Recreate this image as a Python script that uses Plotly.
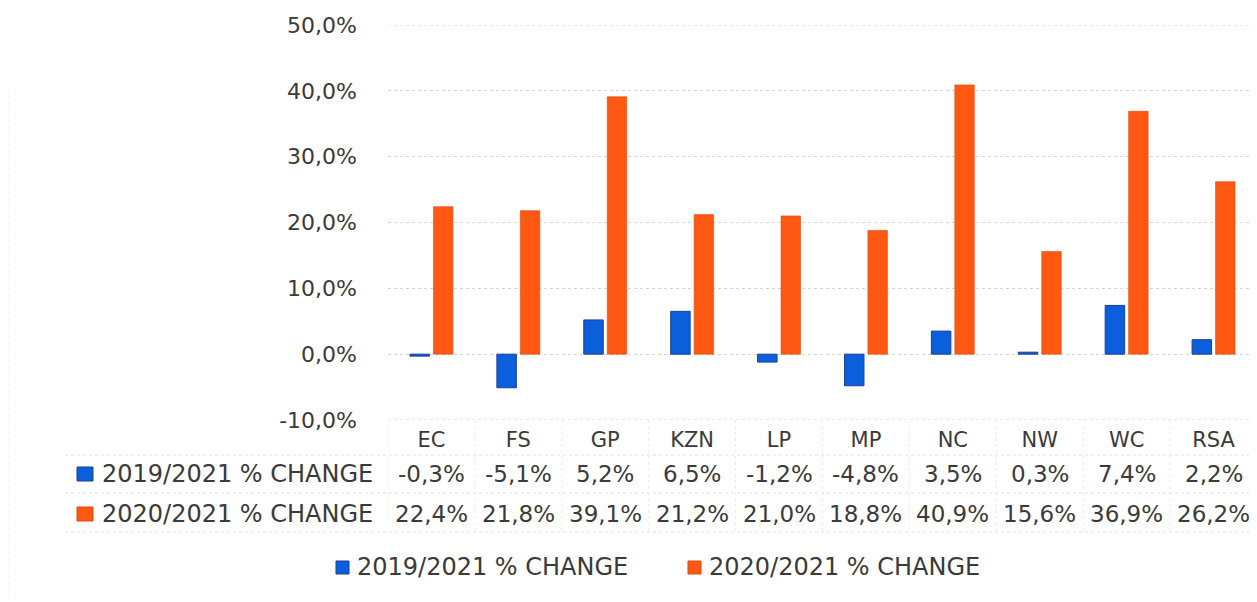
import plotly.graph_objects as go

categories = ["EC", "FS", "GP", "KZN", "LP", "MP", "NC", "NW", "WC", "RSA"]
change_2019_2021 = [-0.3, -5.1, 5.2, 6.5, -1.2, -4.8, 3.5, 0.3, 7.4, 2.2]
change_2020_2021 = [22.4, 21.8, 39.1, 21.2, 21.0, 18.8, 40.9, 15.6, 36.9, 26.2]
series_names = ["2019/2021 % CHANGE", "2020/2021 % CHANGE"]
y_ticks = [-10, 0, 10, 20, 30, 40, 50]

BLUE = "#0b5fdc"
BLUE_EDGE = "#1d3f96"
ORANGE = "#ff5812"
ORANGE_EDGE = "#d84a10"
TEXT = "#3a3a3a"
FONT = "DejaVu Sans"
GRID = "#d4d4d4"

OFF = 8  # page body margin
W, H = 1257 - OFF, 602 - OFF
# plot area in page pixels: x 388..1257, y 25..420
L, T = 388 - OFF, 25 - OFF
R = 0
B = H - (420 - OFF)
plot_h = H - T - B
plot_w = W - L - R


def py(ypix):
    return ((420 - OFF) - (ypix - OFF)) / plot_h


def px(xpix):
    return ((xpix - OFF) - L) / plot_w


def fmt(v):
    return f"{v:.1f}".replace(".", ",") + "%"


fig = go.Figure()
fig.add_trace(go.Bar(x=categories, y=change_2019_2021, name=series_names[0],
                     marker=dict(color=BLUE, line=dict(color=BLUE_EDGE, width=1))))
fig.add_trace(go.Bar(x=categories, y=change_2020_2021, name=series_names[1],
                     marker=dict(color=ORANGE, line=dict(color=ORANGE_EDGE, width=0.6))))

shapes = []
annotations = []

# gridlines at the range edges (plotly omits them at the very edge)
for t in (y_ticks[0], y_ticks[-1]):
    shapes.append(dict(type="line", xref="paper", yref="y", x0=0, x1=1, y0=t, y1=t,
                       layer="below", line=dict(color=GRID, width=1, dash="dot")))

# data table grid (faint dotted)
for ypix in [455, 493, 532]:
    shapes.append(dict(type="line", xref="paper", yref="paper",
                       x0=px(65), x1=1, y0=py(ypix), y1=py(ypix),
                       line=dict(color="#e0e0e0", width=1, dash="dot")))
for k in range(len(categories)):
    shapes.append(dict(type="line", xref="x", yref="paper",
                       x0=k - 0.5, x1=k - 0.5, y0=py(420), y1=py(532),
                       line=dict(color="#ececec", width=1, dash="dot")))
# faint chart border on left
shapes.append(dict(type="line", xref="paper", yref="paper",
                   x0=px(8), x1=px(8), y0=py(90), y1=py(600),
                   line=dict(color="#ececec", width=1, dash="dot")))

rows = [(change_2019_2021, BLUE, BLUE_EDGE, 474), (change_2020_2021, ORANGE, ORANGE_EDGE, 514)]
for (vals, col, edge, ypix), name in zip(rows, series_names):
    shapes.append(dict(type="rect", xref="paper", yref="paper",
                       x0=px(77), x1=px(93), y0=py(ypix - 7), y1=py(ypix + 7),
                       fillcolor=col, line=dict(color=edge, width=1)))
    annotations.append(dict(xref="paper", yref="paper", x=px(100), y=py(ypix),
                            text=name, showarrow=False, xanchor="left", yanchor="middle",
                            font=dict(family=FONT, size=24, color=TEXT)))
    for c, v in zip(categories, vals):
        annotations.append(dict(xref="x", yref="paper", x=c, y=py(ypix),
                                text=fmt(v), showarrow=False, xanchor="center",
                                yanchor="middle",
                                font=dict(family=FONT, size=23, color=TEXT)))

# bottom legend
legend_items = [(series_names[0], BLUE, BLUE_EDGE, 336), (series_names[1], ORANGE, ORANGE_EDGE, 688)]
for name, col, edge, xpix in legend_items:
    shapes.append(dict(type="rect", xref="paper", yref="paper",
                       x0=px(xpix), x1=px(xpix + 13), y0=py(574), y1=py(561),
                       fillcolor=col, line=dict(color=edge, width=1)))
    annotations.append(dict(xref="paper", yref="paper", x=px(xpix + 19), y=py(567),
                            text=name, showarrow=False, xanchor="left", yanchor="middle",
                            font=dict(family=FONT, size=24, color=TEXT)))

fig.update_layout(
    width=W, height=H,
    margin=dict(l=L, r=R, t=T, b=B),
    paper_bgcolor="white", plot_bgcolor="white",
    barmode="group", bargap=0.46, bargroupgap=0.17,
    showlegend=False,
    font=dict(family=FONT, size=22, color=TEXT),
    shapes=shapes,
    annotations=annotations,
)
fig.update_xaxes(range=[-0.5, len(categories) - 0.5], showgrid=False, showline=False,
                 zeroline=False, ticks="", ticklabelstandoff=5,
                 tickfont=dict(family=FONT, size=21, color=TEXT))
fig.update_yaxes(range=[-10, 50], tickvals=y_ticks, ticktext=[fmt(t) for t in y_ticks],
                 showgrid=True, gridcolor=GRID, griddash="dot", gridwidth=1,
                 zeroline=False, showline=False, ticks="", ticklabelstandoff=30,
                 tickfont=dict(family=FONT, size=22, color=TEXT))

fig.write_html("out.html")
